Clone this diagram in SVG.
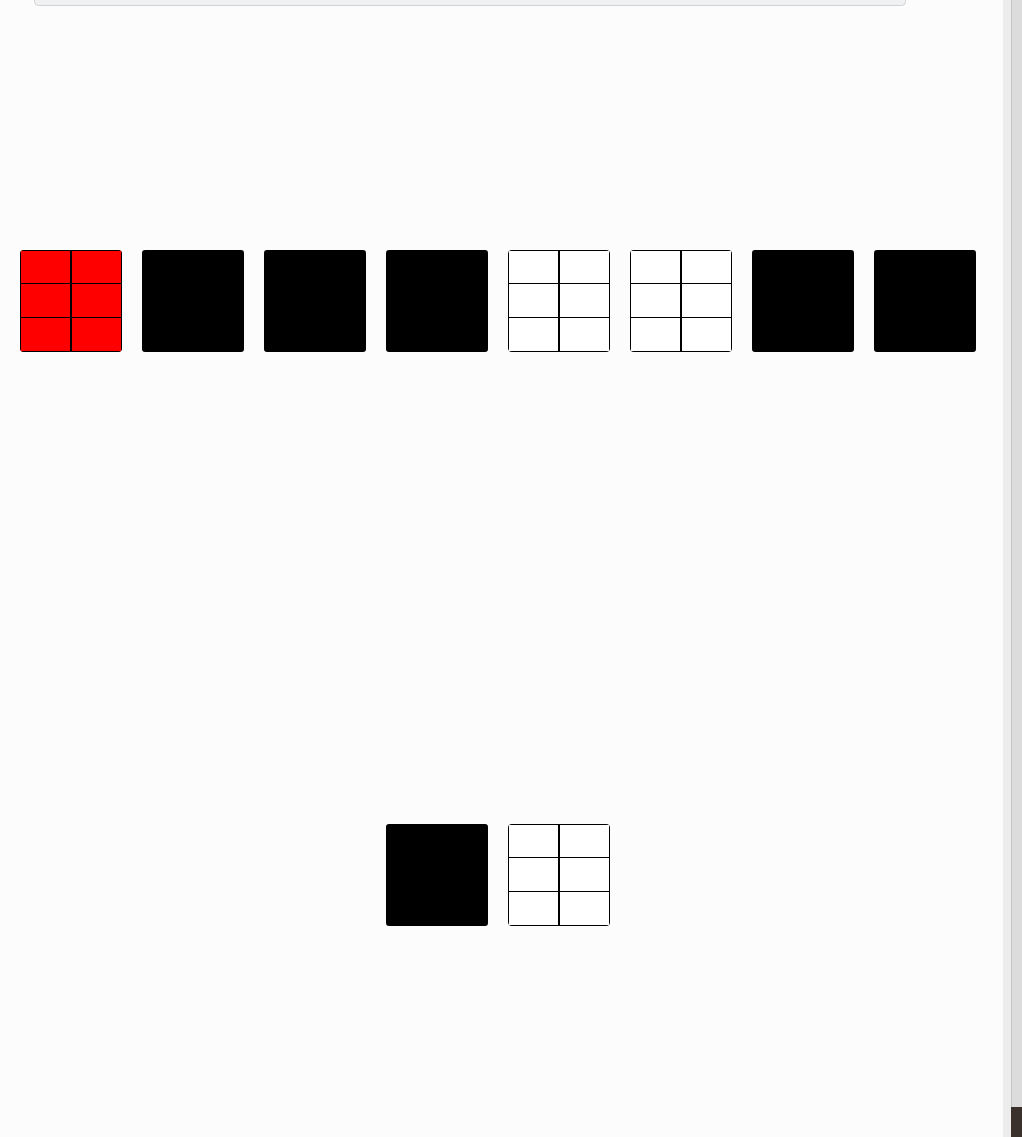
<svg xmlns="http://www.w3.org/2000/svg" width="1022" height="1137" viewBox="0 0 1022 1137">
<defs>
<style>
.blk{fill:#000000;}
.grid{stroke:#000000;stroke-width:1;}
.vline{stroke:#000000;stroke-width:2;}
.frame{fill:none;stroke:#000000;stroke-width:1;}
</style>
<clipPath id="rc">
<rect x="0" y="0" width="102" height="102" rx="4"/>
</clipPath>
<g id="grid">
<rect x="0.5" y="0.5" width="101" height="101" class="frame"/>
<line x1="0" y1="33.5" x2="102" y2="33.5" class="grid"/>
<line x1="0" y1="67.5" x2="102" y2="67.5" class="grid"/>
<line x1="51" y1="0" x2="51" y2="102" class="vline"/>
</g>
</defs>
<rect x="0" y="0" width="1022" height="1137" fill="#fcfcfc"/>
<rect x="34.5" y="-10" width="871" height="15.5" rx="4" fill="#f0f1f2" stroke="#d2d2d2" stroke-width="1"/>
<g id="scrollbar">
<rect x="1003" y="0" width="8" height="1137" fill="#ececec"/>
<rect x="1011" y="0" width="11" height="1137" fill="#dcdcdc"/>
<line x1="1011.5" y1="0" x2="1011.5" y2="1137" stroke="#c4c4c4" stroke-width="1"/>
<rect x="1011" y="1107" width="11" height="30" fill="#3a302c"/>
</g>
<g id="node1" transform="translate(20,250)">
<g clip-path="url(#rc)">
<rect x="0" y="0" width="102" height="102" fill="#ff0000"/>
<use href="#grid"/>
</g>
</g>
<g id="node2"><rect x="142" y="250" width="102" height="102" rx="3" class="blk"/></g>
<g id="node3"><rect x="264" y="250" width="102" height="102" rx="3" class="blk"/></g>
<g id="node4"><rect x="386" y="250" width="102" height="102" rx="3" class="blk"/></g>
<g id="node5" transform="translate(508,250)">
<g clip-path="url(#rc)">
<rect x="0" y="0" width="102" height="102" fill="#ffffff"/>
<use href="#grid"/>
</g>
</g>
<g id="node6" transform="translate(630,250)">
<g clip-path="url(#rc)">
<rect x="0" y="0" width="102" height="102" fill="#ffffff"/>
<use href="#grid"/>
</g>
</g>
<g id="node7"><rect x="752" y="250" width="102" height="102" rx="3" class="blk"/></g>
<g id="node8"><rect x="874" y="250" width="102" height="102" rx="3" class="blk"/></g>
<g id="node9"><rect x="386" y="824" width="102" height="102" rx="3" class="blk"/></g>
<g id="node10" transform="translate(508,824)">
<g clip-path="url(#rc)">
<rect x="0" y="0" width="102" height="102" fill="#ffffff"/>
<use href="#grid"/>
</g>
</g>
<g id="connectors"></g>
</svg>
